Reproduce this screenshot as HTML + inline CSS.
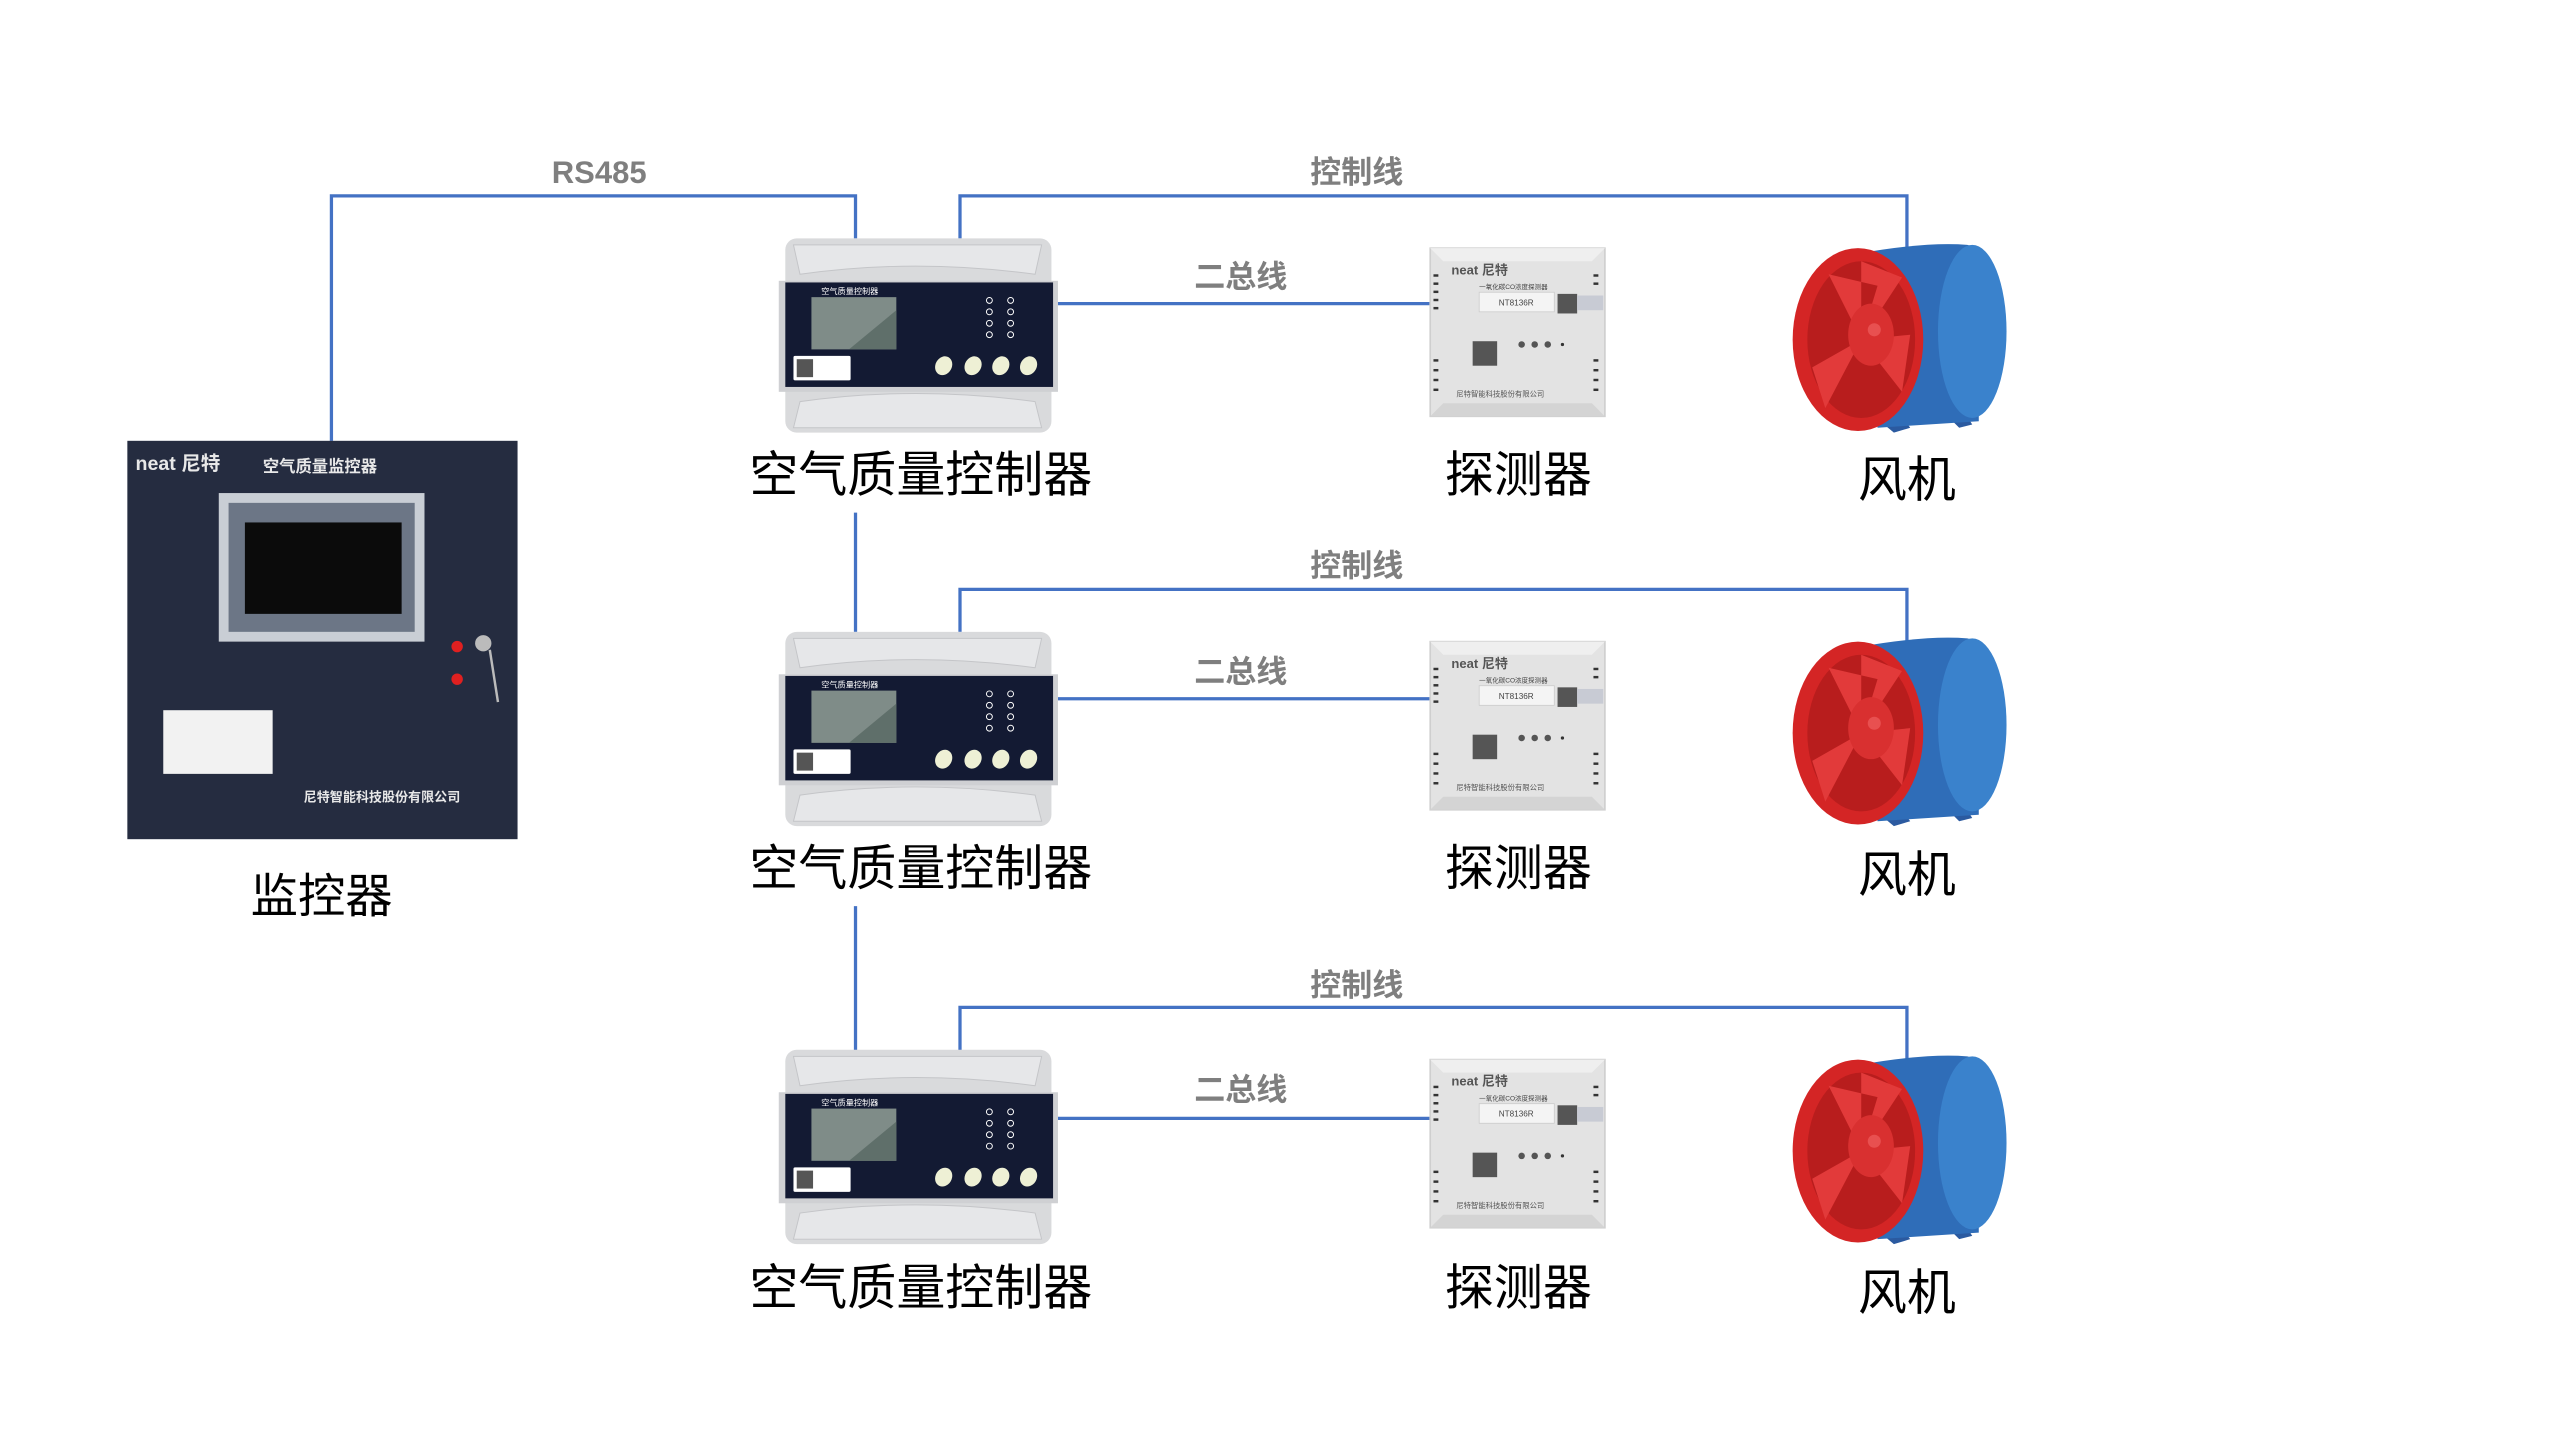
<!DOCTYPE html>
<html><head><meta charset="utf-8"><style>
html,body{margin:0;padding:0;background:#fff;width:2560px;height:1440px;overflow:hidden}
svg{display:block}
text{font-family:"Liberation Sans","Noto Sans CJK SC",sans-serif}
</style></head><body>
<svg width="2560" height="1440" viewBox="0 0 1568 882" preserveAspectRatio="xMinYMin meet" xmlns="http://www.w3.org/2000/svg">
<defs>
<g id="ctrl">
  <rect x="481" y="146" width="163" height="119" rx="7" fill="#d9dadc"/>
  <path d="M486 150 L638 150 L634 168 Q560 158 490 168 Z" fill="#e6e7e9" stroke="#c4c5c8" stroke-width="0.6"/>
  <path d="M486 262 L638 262 L634 246 Q560 236 490 246 Z" fill="#e6e7e9" stroke="#c4c5c8" stroke-width="0.6"/>
  <rect x="477" y="172" width="171" height="68" fill="#cfd0d3"/>
  <rect x="481" y="173" width="164" height="64" fill="#131a33"/>
  <rect x="497" y="182" width="52" height="32" fill="#7f8c88"/>
  <path d="M520 214 L549 190 L549 214 Z" fill="#5f6f6a"/>
  <text x="503" y="180" font-size="5" fill="#fff">空气质量控制器</text>
  <rect x="486" y="218" width="35" height="15" rx="1" fill="#fff"/>
  <rect x="488" y="220" width="10" height="11" fill="#555"/>
  <g fill="none" stroke="#fff" stroke-width="0.6">
    <circle cx="606" cy="184" r="1.8"/><circle cx="619" cy="184" r="1.8"/>
    <circle cx="606" cy="191" r="1.8"/><circle cx="619" cy="191" r="1.8"/>
    <circle cx="606" cy="198" r="1.8"/><circle cx="619" cy="198" r="1.8"/>
    <circle cx="606" cy="205" r="1.8"/><circle cx="619" cy="205" r="1.8"/>
  </g>
  <g fill="#eef0d5">
    <ellipse cx="578" cy="224" rx="5" ry="6" transform="rotate(30 578 224)"/>
    <ellipse cx="596" cy="224" rx="5" ry="6" transform="rotate(30 596 224)"/>
    <ellipse cx="613" cy="224" rx="5" ry="6" transform="rotate(30 613 224)"/>
    <ellipse cx="630" cy="224" rx="5" ry="6" transform="rotate(30 630 224)"/>
  </g>
</g>
<g id="det">
  <rect x="876" y="152" width="107" height="103" fill="#e3e3e3" stroke="#cfcfcf"/>
  <path d="M876 152 L983 152 L975 160 L884 160 Z" fill="#efefef"/>
  <path d="M876 255 L983 255 L975 247 L884 247 Z" fill="#d4d4d4"/>
  <text x="889" y="168" font-size="8" font-weight="bold" fill="#555">neat 尼特</text>
  <text x="906" y="177" font-size="4" fill="#444">一氧化碳CO浓度探测器</text>
  <rect x="906" y="179" width="46" height="12" fill="#f4f4f4" stroke="#ccc" stroke-width="0.5"/>
  <text x="918" y="187" font-size="5" fill="#444">NT8136R</text>
  <rect x="954" y="180" width="12" height="12" fill="#555"/>
  <rect x="966" y="181" width="16" height="9" fill="#c8cbd4"/>
  <rect x="902" y="209" width="15" height="15" fill="#555"/>
  <circle cx="932" cy="211" r="2" fill="#555"/><circle cx="940" cy="211" r="2" fill="#555"/><circle cx="948" cy="211" r="2" fill="#555"/><circle cx="957" cy="211" r="1" fill="#333"/>
  <text x="892" y="243" font-size="4.5" fill="#555">尼特智能科技股份有限公司</text>
  <g fill="#333"><rect x="878" y="168" width="3" height="1.5"/><rect x="878" y="173" width="3" height="1.5"/><rect x="878" y="178" width="3" height="1.5"/><rect x="878" y="183" width="3" height="1.5"/><rect x="878" y="188" width="3" height="1.5"/><rect x="878" y="220" width="3" height="1.5"/><rect x="878" y="226" width="3" height="1.5"/><rect x="878" y="232" width="3" height="1.5"/><rect x="878" y="238" width="3" height="1.5"/><rect x="976" y="168" width="3" height="1.5"/><rect x="976" y="173" width="3" height="1.5"/><rect x="976" y="220" width="3" height="1.5"/><rect x="976" y="226" width="3" height="1.5"/><rect x="976" y="232" width="3" height="1.5"/><rect x="976" y="238" width="3" height="1.5"/></g>
</g>
<g id="fan">
  <path d="M1130 240 L1160 265 L1170 262 L1150 235 Z" fill="#2b5aa0"/>
  <path d="M1178 240 L1200 262 L1208 260 L1192 235 Z" fill="#2b5aa0"/>
  <path d="M1140 155 Q1180 148 1205 150 L1212 152 L1212 258 L1150 262 Z" fill="#2f6db8"/>
  <ellipse cx="1208" cy="203" rx="21" ry="53" fill="#3a82cc"/>
  <ellipse cx="1138" cy="208" rx="40" ry="56" fill="#d42525"/>
  <ellipse cx="1140" cy="208" rx="33" ry="48" fill="#b81d1d"/>
  <path d="M1140 208 L1120 168 L1150 175 Z M1140 208 L1110 225 L1118 250 Z M1140 208 L1165 240 L1170 205 Z M1140 208 L1165 170 L1140 160 Z" fill="#e23a3a"/>
  <ellipse cx="1146" cy="205" rx="14" ry="19" fill="#d93030"/>
  <circle cx="1148" cy="202" r="4" fill="#e85050"/>
</g>
</defs>

<g stroke="#4472c4" stroke-width="2" fill="none">
  <polyline points="203,270 203,120 524,120 524,146"/>
  <polyline points="588,146 588,120 1168,120 1168,152"/>
  <line x1="648" y1="186" x2="876" y2="186"/>
  <line x1="524" y1="314" x2="524" y2="387"/>
  <polyline points="588,387 588,361 1168,361 1168,393"/>
  <line x1="648" y1="428" x2="876" y2="428"/>
  <line x1="524" y1="555" x2="524" y2="644"/>
  <polyline points="588,644 588,617 1168,617 1168,649"/>
  <line x1="648" y1="685" x2="876" y2="685"/>
</g>

<g font-weight="bold" fill="#7f7f7f" font-size="19">
  <text x="367" y="112" text-anchor="middle">RS485</text>
  <text x="831" y="112" text-anchor="middle">控制线</text>
  <text x="760" y="176" text-anchor="middle">二总线</text>
  <text x="831" y="353" text-anchor="middle">控制线</text>
  <text x="760" y="418" text-anchor="middle">二总线</text>
  <text x="831" y="610" text-anchor="middle">控制线</text>
  <text x="760" y="674" text-anchor="middle">二总线</text>
</g>

<rect x="78" y="270" width="239" height="244" fill="#252c40"/>
<text x="83" y="288" font-size="12" font-weight="bold" fill="#e8e8e8">neat 尼特</text>
<text x="161" y="289" font-size="10" font-weight="bold" fill="#e8e8e8">空气质量监控器</text>
<rect x="134" y="302" width="126" height="91" fill="#c9ced5"/>
<rect x="140" y="308" width="114" height="79" fill="#6c7686"/>
<rect x="150" y="320" width="96" height="56" fill="#0b0b0b"/>
<rect x="100" y="435" width="67" height="39" fill="#f2f2f2"/>
<circle cx="280" cy="396" r="3.5" fill="#e02020"/>
<circle cx="280" cy="416" r="3.5" fill="#e02020"/>
<circle cx="296" cy="394" r="5" fill="#bbb"/>
<line x1="300" y1="398" x2="305" y2="430" stroke="#bbb" stroke-width="1.5"/>
<text x="186" y="491" font-size="8" font-weight="bold" fill="#e8e8e8">尼特智能科技股份有限公司</text>
<text x="197" y="559" font-size="29" text-anchor="middle" fill="#000">监控器</text>

<g><use href="#ctrl"/><use href="#det"/><use href="#fan"/></g>
<g transform="translate(0,241)"><use href="#ctrl"/><use href="#det"/><use href="#fan"/></g>
<g transform="translate(0,497)"><use href="#ctrl"/><use href="#det"/><use href="#fan"/></g>

<g font-size="30" fill="#000" text-anchor="middle">
  <text x="564" y="301">空气质量控制器</text>
  <text x="930" y="301">探测器</text>
  <text x="1168" y="304">风机</text>
  <text x="564" y="542">空气质量控制器</text>
  <text x="930" y="542">探测器</text>
  <text x="1168" y="546">风机</text>
  <text x="564" y="799">空气质量控制器</text>
  <text x="930" y="799">探测器</text>
  <text x="1168" y="802">风机</text>
</g>
</svg>
</body></html>
